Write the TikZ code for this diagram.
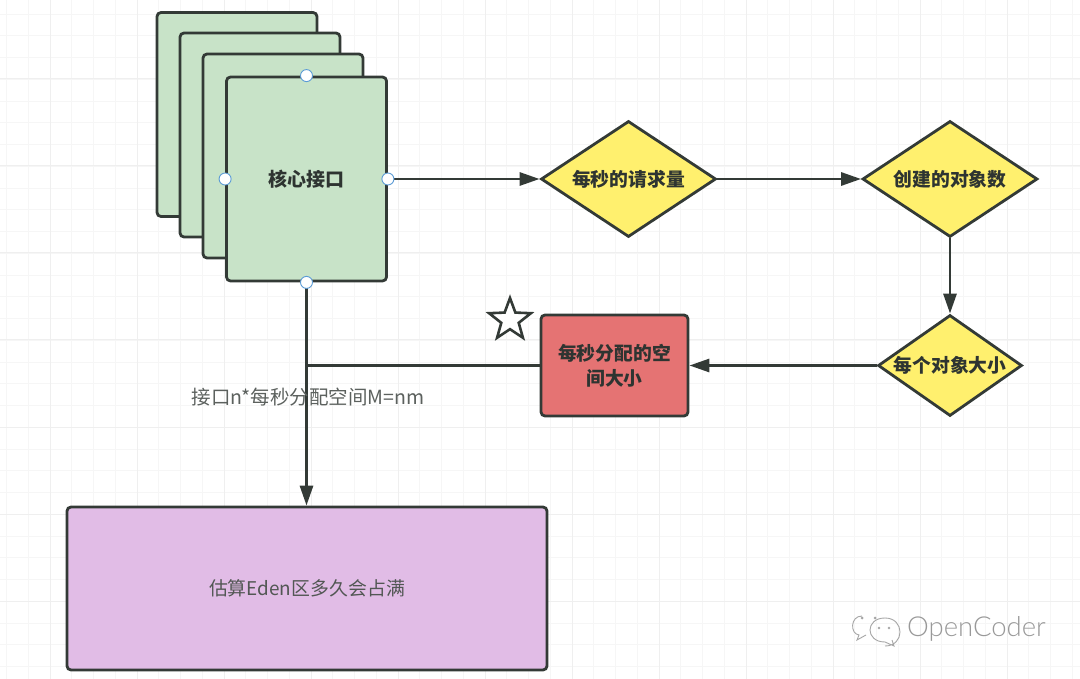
\documentclass[tikz,border=0pt]{standalone}
\usepackage{fontspec}
\setmainfont{Noto Sans CJK SC}
\newfontfamily\wmfont{Lato Light}
\usetikzlibrary{shapes.geometric,arrows.meta}
\definecolor{edge}{HTML}{333A36}
\definecolor{gridminor}{HTML}{F6F6F6}
\definecolor{gridmajor}{HTML}{EFEFEF}
\definecolor{greenfill}{HTML}{C8E3C8}
\definecolor{yellowfill}{HTML}{FFF06E}
\definecolor{redfill}{HTML}{E57373}
\definecolor{purplefill}{HTML}{E1BCE6}
\definecolor{handle}{HTML}{5B9BD5}
\tikzset{
  card/.style={draw=edge,fill=greenfill,line width=2.8pt,rounded corners=4pt,minimum width=160pt,minimum height=204pt,inner sep=0pt,font=\fontsize{19pt}{22pt}\selectfont\bfseries,text=edge!90!black},
  choice/.style={diamond,aspect=1.5,draw=edge,fill=yellowfill,line width=2.8pt,inner sep=0pt,font=\fontsize{18.8pt}{22pt}\selectfont\bfseries,text=edge!90!black},
  redbox/.style={draw=edge,fill=redfill,line width=2.8pt,rounded corners=4pt,inner sep=0pt,minimum width=147pt,minimum height=101pt,align=center,font=\fontsize{18.8pt}{25pt}\selectfont\bfseries,text=edge!90!black},
  purplebox/.style={draw=edge,fill=purplefill,line width=2.8pt,rounded corners=4pt,inner sep=0pt,minimum width=480pt,minimum height=163pt,font=\fontsize{18.9pt}{22pt}\selectfont,text=edge!85!white},
  flow/.style={draw=edge,line width=2.9pt,-{Triangle[length=20pt,width=13pt]}},
  plainline/.style={draw=edge,line width=2.9pt},
  port/.style={circle,draw=handle,fill=white,line width=0.9pt,minimum size=12pt,inner sep=0pt},
  lab/.style={font=\fontsize{19.5pt}{22pt}\selectfont,text=edge!80!white,inner sep=0pt},
  gminor/.style={draw=gridminor,line width=0.8pt},
  gmajor/.style={draw=gridmajor,line width=1pt}
}
\begin{document}
\begin{tikzpicture}[x=1pt,y=-1pt]
\useasboundingbox (0,0) rectangle (1080,679);
\fill[white] (0,0) rectangle (1080,679);
% grid
\foreach \i in {0,...,49} \draw[gminor] ({6.5+21.75*\i},0) -- ({6.5+21.75*\i},679);
\foreach \i in {0,...,31} \draw[gminor] (0,{14+21.75*\i}) -- (1080,{14+21.75*\i});
\foreach \i in {0,...,11} \draw[gmajor] ({50+87*\i},0) -- ({50+87*\i},679);
\foreach \i in {0,...,7} \draw[gmajor] (0,{79+87*\i}) -- (1080,{79+87*\i});
% stacked cards
\node[card] (c1) at (237,114.5) {};
\node[card] (c2) at (260,135) {};
\node[card] (c3) at (283,156) {};
\node[card] (core) at (306.5,179) {核心接口};
% diamonds
\node[choice,minimum width=175pt,minimum height=116pt] (d1) at (628.5,179) {每秒的请求量};
\node[choice,minimum width=175pt,minimum height=116pt] (d2) at (950,179) {创建的对象数};
\node[choice,minimum width=144pt,minimum height=101pt,aspect=1.43] (d3) at (950,365.5) {每个对象大小};
% red and purple boxes
\node[redbox] (red) at (614.5,365.5) {每秒分配的空\\间大小};
\node[purplebox] (eden) at (307,588.5) {估算Eden区多久会占满};
% star
\node[star,star points=5,star point ratio=2.4,draw=edge,fill=white,line width=2.6pt,minimum size=44pt,inner sep=0pt] (mark) at (510,320) {};
% connectors
\coordinate (join) at (red.west -| core.south);
\draw[flow] (core.east) -- (d1.west);
\draw[flow] (d1.east) -- (d2.west);
\draw[flow] (d2.south) -- (d3.north);
\draw[flow] (d3.west) -- (red.east);
\draw[plainline] (red.west) -- (join);
\draw[flow] (core.south) -- (eden.north -| core.south);
% ports
\node[port] (p1) at (core.north) {};
\node[port] (p2) at (core.south) {};
\node[port] (p3) at (core.west) {};
\node[port] (p4) at (core.east) {};
% label
\node[lab,anchor=center] (formula) at (308,397) {接口n*每秒分配空间M=nm};
% watermark
\node[inner sep=0pt,anchor=west,font=\fontsize{27.5pt}{30pt}\wmfont,text=black!40] (wm) at (907,629) {OpenCoder};
\draw[black!35,line width=0.9pt] (862,616) .. controls (850,616) and (850,634) .. (859,635) -- (857,640) -- (866,635);
\draw[black!35,line width=0.9pt] (885,646) .. controls (905,646) and (905,618) .. (885,618) .. controls (865,618) and (865,642) .. (885,642) -- (894,646) -- (892,640);
\fill[black!35] (862,618) circle (1.5) (875,618) circle (1.5) (879,628) circle (1.3) (889,628) circle (1.3);
\end{tikzpicture}
\end{document}
